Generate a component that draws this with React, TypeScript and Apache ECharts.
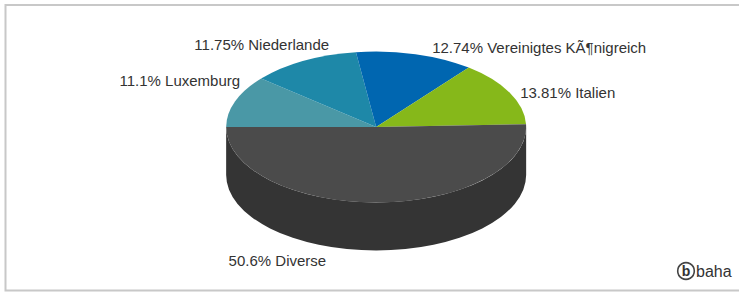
import React, { useEffect, useRef } from "react";
import * as echarts from "echarts";

// ---- data ----
const CATEGORIES = ["Luxemburg", "Niederlande", "Vereinigtes KÃ¶nigreich", "Italien", "Diverse"];
const PERCENTS = [11.1, 11.75, 12.74, 13.81, 50.6];
const COLORS = ["#4a98a6", "#1e88a8", "#0066b0", "#86b81a", "#4b4b4b"];

// label layout relative to pie centre (layout only, not data)
const LABEL_LAYOUT = [
  { dx: -136, dy: -47, align: "right" },
  { dx: -47, dy: -83, align: "right" },
  { dx: 56, dy: -80, align: "left" },
  { dx: 144, dy: -35, align: "left" },
  { dx: -50, dy: 133, align: "right" },
];

function darken(hex: string, f: number) {
  const n = parseInt(hex.slice(1), 16);
  const r = Math.round(((n >> 16) & 255) * f);
  const g = Math.round(((n >> 8) & 255) * f);
  const b = Math.round((n & 255) * f);
  return `rgb(${r},${g},${b})`;
}

export default function App() {
  const ref = useRef<HTMLDivElement>(null);
  useEffect(() => {
    if (!ref.current) return;
    const chart = echarts.init(ref.current, undefined, { renderer: "svg" });
    const total = PERCENTS.reduce((a, b) => a + b, 0);

    const renderItem = (params: any, api: any) => {
      const i = params.dataIndex;
      const W = api.getWidth();
      const H = api.getHeight();
      const cx = W * 0.509;
      const cy = H * 0.4335;
      const rx = 150;
      const ry = 75.5;
      const depth = 48;
      const val = api.value(1);
      let before = 0;
      for (let k = 0; k < i; k++) before += PERCENTS[k];
      const a0 = 180 - (before / total) * 360;
      const a1 = a0 - (val / total) * 360;
      const rad = (d: number) => (d * Math.PI) / 180;
      const px = (a: number) => cx + rx * Math.cos(rad(a));
      const py = (a: number) => cy - ry * Math.sin(rad(a));
      const large = a0 - a1 > 180 ? 1 : 0;
      const top =
        `M${cx},${cy} L${px(a0)},${py(a0)} ` +
        `A${rx},${ry} 0 ${large} 1 ${px(a1)},${py(a1)} Z`;
      const children: any[] = [];
      const w0 = Math.min(a0, 0);
      const w1 = Math.max(a1, -180);
      if (w0 > w1) {
        const wl = w0 - w1 > 180 ? 1 : 0;
        const wall =
          `M${px(w0)},${py(w0)} A${rx},${ry} 0 ${wl} 1 ${px(w1)},${py(w1)} ` +
          `L${px(w1)},${py(w1) + depth} A${rx},${ry} 0 ${wl} 0 ${px(w0)},${py(w0) + depth} Z`;
        children.push({
          type: "path",
          shape: { pathData: wall },
          style: { fill: darken(COLORS[i], 0.69), stroke: "none" },
        });
      }
      children.push({
        type: "path",
        shape: { pathData: top },
        style: { fill: COLORS[i], stroke: "none" },
      });
      const lay = LABEL_LAYOUT[i];
      children.push({
        type: "text",
        x: cx + lay.dx,
        y: cy + lay.dy,
        style: {
          text: `${PERCENTS[i]}% ${CATEGORIES[i]}`,
          fill: "#333",
          font: '15px "Liberation Sans", Arial, sans-serif',
          align: lay.align,
          verticalAlign: "middle",
        },
      });
      return { type: "group", children };
    };

    chart.setOption({
      animation: false,
      backgroundColor: "#ffffff",
      series: [
        {
          type: "custom",
          coordinateSystem: "none",
          renderItem,
          data: PERCENTS.map((v, i) => [i, v]),
          silent: true,
        },
      ],
      graphic: [
        {
          type: "polyline",
          shape: { points: [[739, 5], [5.5, 5], [5.5, 290.5], [739, 290.5]] },
          style: { fill: "none", stroke: "#c8c8c8", lineWidth: 2 },
          silent: true,
        },
        {
          type: "circle",
          shape: { cx: 686, cy: 271, r: 8.3 },
          style: { fill: "#fff", stroke: "#444", lineWidth: 1.6 },
        },
        {
          type: "text",
          x: 686,
          y: 271,
          style: {
            text: "b",
            fill: "#333",
            font: 'bold 14px "Liberation Sans", Arial, sans-serif',
            align: "center",
            verticalAlign: "middle",
          },
        },
        {
          type: "text",
          x: 696,
          y: 271,
          style: {
            text: "baha",
            fill: "#333",
            font: '16px "Liberation Sans", Arial, sans-serif',
            align: "left",
            verticalAlign: "middle",
          },
        },
      ],
    });
    return () => chart.dispose();
  }, []);
  return (
    <div
      ref={ref}
      style={{ position: "absolute", left: 0, top: 0, width: 739, height: 293, background: "#fff" }}
    />
  );
}
